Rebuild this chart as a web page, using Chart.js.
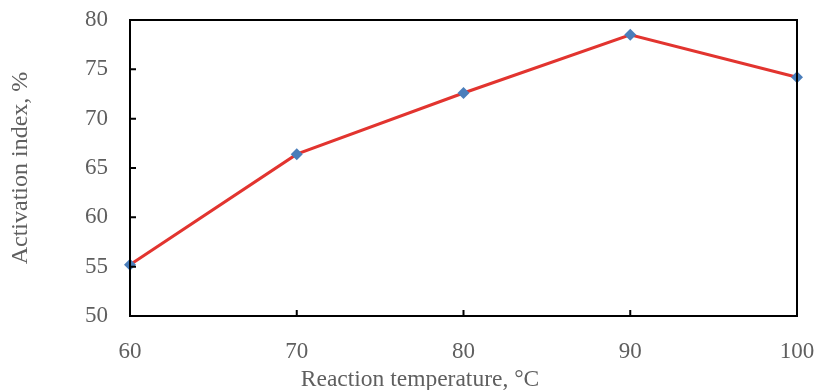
<!DOCTYPE html>
<html lang="en">
<head>
    <meta charset="UTF-8">
    <title>Activation index vs reaction temperature</title>
    <script src="https://cdn.jsdelivr.net/npm/chart.js"></script>
    <style>
        html, body { margin: 0; padding: 0; background: #fff; }
        .chart-container { position: relative; width: 815px; height: 390px; }
    </style>
</head>
<body>

<div class="chart-container">
    <canvas id="activationChart"></canvas>
</div>

<script>
    // data
    const temperatures = [60, 70, 80, 90, 100];
    const activationIndex = [55.2, 66.4, 72.6, 78.5, 74.2];
    const xTicks = [60, 70, 80, 90, 100];
    const yTicks = [50, 55, 60, 65, 70, 75, 80];

    const textColor = '#5f5f5f';
    const serif = "'Liberation Serif', 'DejaVu Serif', serif";

    // frame + inward tick marks + x title
    const framePlugin = {
        id: 'frame',
        afterDraw(chart) {
            const { ctx, chartArea: a, scales } = chart;
            ctx.save();
            ctx.strokeStyle = '#000';
            ctx.lineWidth = 2;
            ctx.strokeRect(a.left, a.top, a.right - a.left, a.bottom - a.top);
            ctx.beginPath();
            scales.y.ticks.forEach(t => {
                const y = scales.y.getPixelForValue(t.value);
                ctx.moveTo(a.left, y);
                ctx.lineTo(a.left + 6, y);
            });
            scales.x.ticks.forEach(t => {
                const x = scales.x.getPixelForValue(t.value);
                ctx.moveTo(x, a.bottom);
                ctx.lineTo(x, a.bottom - 6);
            });
            ctx.stroke();

            ctx.fillStyle = textColor;
            ctx.font = '23.5px ' + serif;
            ctx.textAlign = 'center';
            ctx.textBaseline = 'middle';
            ctx.fillText('Reaction temperature, °C', 420, 380);
            ctx.restore();
        }
    };

    const ctx = document.getElementById('activationChart').getContext('2d');

    new Chart(ctx, {
        type: 'line',
        data: {
            datasets: [{
                data: temperatures.map((t, i) => ({ x: t, y: activationIndex[i] })),
                borderColor: '#E2342F',
                borderWidth: 3,
                pointStyle: 'rectRot',
                pointRadius: 6,
                pointBackgroundColor: '#4A7EBB',
                pointBorderColor: '#4A7EBB',
                pointBorderWidth: 0,
                tension: 0,
                clip: false
            }]
        },
        options: {
            responsive: true,
            maintainAspectRatio: false,
            animation: false,
            layout: { padding: { top: 20, right: 18, left: 0, bottom: 0 } },
            plugins: {
                legend: { display: false },
                tooltip: { enabled: false }
            },
            scales: {
                x: {
                    type: 'linear',
                    min: 60,
                    max: 100,
                    afterBuildTicks: s => { s.ticks = xTicks.map(v => ({ value: v })); },
                    afterFit: s => { s.height = 74; s.paddingLeft = 0; s.paddingRight = 0; },
                    grid: { display: false },
                    border: { display: false },
                    ticks: {
                        color: textColor,
                        font: { family: serif, size: 23 },
                        padding: 14,
                        maxRotation: 0
                    }
                },
                y: {
                    min: 50,
                    max: 80,
                    afterBuildTicks: s => { s.ticks = yTicks.map(v => ({ value: v })); },
                    afterFit: s => { s.width = 130; s.paddingTop = 0; s.paddingBottom = 0; },
                    grid: { display: false },
                    border: { display: false },
                    ticks: {
                        color: textColor,
                        font: { family: serif, size: 23 },
                        padding: 14
                    },
                    title: {
                        display: true,
                        text: 'Activation index, %',
                        color: textColor,
                        font: { family: serif, size: 24 },
                        padding: { top: 6, bottom: 0 }
                    }
                }
            }
        },
        plugins: [framePlugin]
    });
</script>

</body>
</html>
